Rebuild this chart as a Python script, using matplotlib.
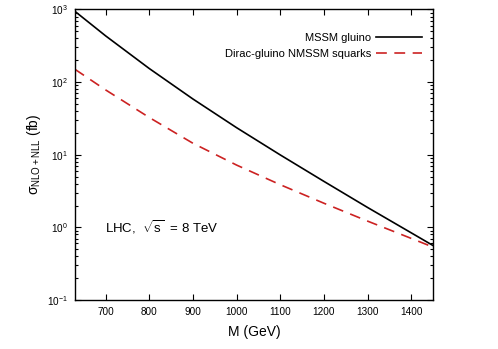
import matplotlib

matplotlib.use("Agg")
import matplotlib.pyplot as plt
from matplotlib.ticker import LogLocator, NullFormatter, FixedLocator

# masses (GeV) and cross sections (fb)
mass = [630, 700, 800, 900, 1000, 1100, 1200, 1300, 1400, 1450]
sigma_gluino = [942, 434, 154, 58.6, 23.6, 9.95, 4.30, 1.88, 0.841, 0.562]
sigma_dirac = [150, 78.2, 32.6, 14.4, 7.21, 3.87, 2.15, 1.22, 0.705, 0.535]
x_ticks = [700, 800, 900, 1000, 1100, 1200, 1300, 1400]

plt.rcParams["font.family"] = ["Liberation Sans", "DejaVu Sans"]
plt.rcParams["mathtext.fontset"] = "custom"
plt.rcParams["mathtext.rm"] = "Liberation Sans"
plt.rcParams["mathtext.it"] = "Liberation Sans"
plt.rcParams["mathtext.bf"] = "Liberation Sans:bold"

fig = plt.figure(figsize=(4.98, 3.49), dpi=100)
ax = fig.add_axes([0.1506, 0.1404, 0.719, 0.8324])

ax.plot(mass, sigma_gluino, color="black", lw=1.2, label="MSSM gluino")
ax.plot(mass, sigma_dirac, color="#cc2222", lw=1.2, dashes=(6.5, 4.5),
        label="Dirac-gluino NMSSM squarks")

ax.set_yscale("log")
ax.set_xlim(630, 1450)
ax.set_ylim(0.1, 1000)
ax.xaxis.set_major_locator(FixedLocator(x_ticks))
ax.yaxis.set_major_locator(LogLocator(base=10, numticks=10))
ax.yaxis.set_minor_locator(LogLocator(base=10, subs=range(2, 10), numticks=10))
ax.yaxis.set_minor_formatter(NullFormatter())
ax.tick_params(which="both", direction="in", top=True, right=True, labelsize=7.2, width=0.8)
ax.tick_params(which="major", length=4, pad=5)
ax.tick_params(which="minor", length=2)
for side in ax.spines.values():
    side.set_linewidth(1.0)

ax.set_xlabel("M (GeV)", fontsize=10, labelpad=6)
ax.set_ylabel(r"$\sigma_{\mathrm{NLO+NLL}}$ (fb)", fontsize=10, labelpad=3)

ax.text(0.083, 0.252, r"LHC,  $\sqrt{\mathrm{s}}$  = 8 TeV", transform=ax.transAxes,
        fontsize=9.5, va="center", ha="left")

ax.legend(loc="upper right", frameon=False, markerfirst=False, fontsize=8,
          handlelength=4.1, handletextpad=0.5, labelspacing=0.55,
          borderaxespad=0.6, bbox_to_anchor=(1.0, 0.957))

fig.savefig("out.png", dpi=100)
